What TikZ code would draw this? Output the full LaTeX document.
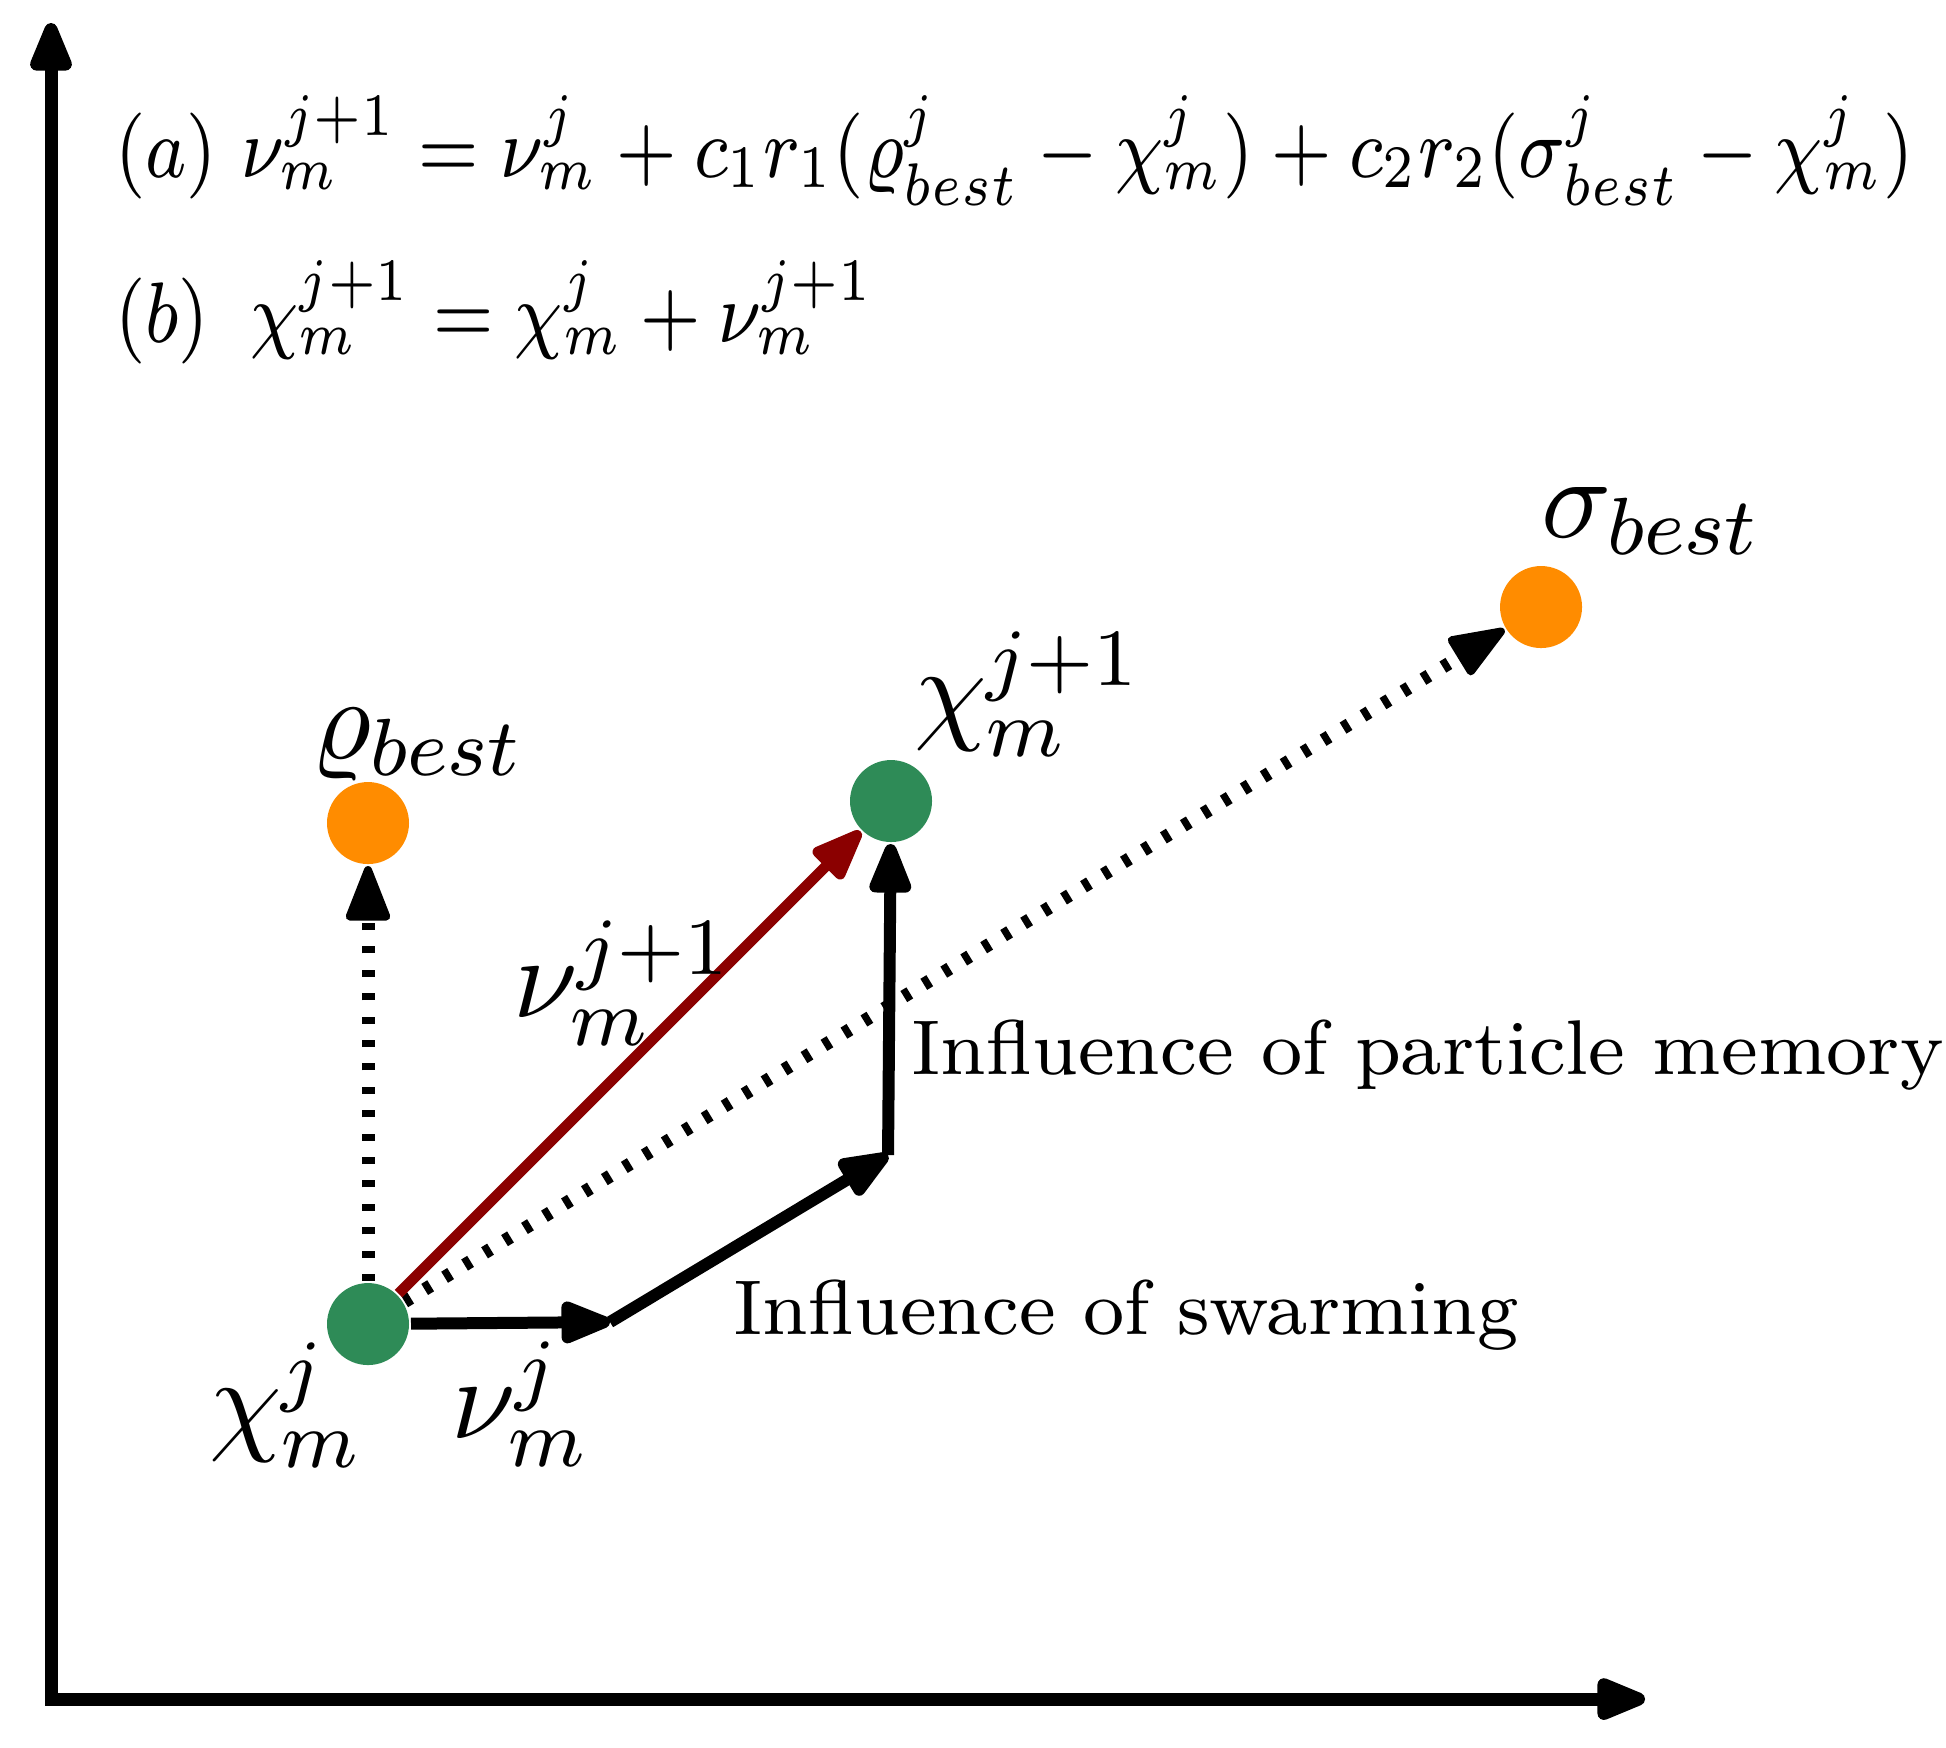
\documentclass[tikz,border=0pt]{standalone}
\usepackage{fix-cm}
\usepackage{graphicx}
\usetikzlibrary{arrows.meta}
\definecolor{ptgreen}{HTML}{2E8B57}
\definecolor{ptorange}{HTML}{FF8C00}
\definecolor{ptred}{HTML}{8B0000}
\begin{document}
\begin{tikzpicture}[x=0.1pt,y=-0.1pt,
  particle/.style={circle,fill=ptgreen,minimum size=8.2pt,inner sep=0pt},
  goal/.style={circle,fill=ptorange,minimum size=8.2pt,inner sep=0pt},
  headtip/.style={-{Triangle[length=6pt,width=4.4pt,round]}},
  axisline/.style={line width=1.3pt,{Triangle[length=6pt,width=4.4pt,round]}-{Triangle[length=6pt,width=4.4pt,round]}},
  move/.style={line width=1.2pt,headtip},
  pull/.style={line width=1.3pt,dash pattern=on 0.7pt off 1.64pt,-{Triangle[length=6.2pt,width=4.6pt,round,line width=0.8pt]}},
  lab/.style={inner sep=0pt,anchor=base west,font=\fontsize{11.6}{14}\selectfont},
  txt/.style={inner sep=0pt,anchor=base west,font=\fontsize{7.76}{10}\selectfont},
  eq/.style={inner sep=0pt,anchor=base west,font=\fontsize{8.6}{10}\selectfont},
]
\useasboundingbox (0,0) rectangle (1946,1747);
% axes
\coordinate (O) at (51,1699);
\coordinate (ytop) at (51,23);
\coordinate (xend) at (1645,1699);
\draw[axisline] (ytop) -- (O) -- (xend);
% points
\node[particle] (chi) at (368,1324) {};
\node[goal] (rho) at (368,823) {};
\node[particle] (chinext) at (891,801) {};
\node[goal] (sig) at (1541,607) {};
\coordinate (p1) at (610,1322);
\coordinate (p2) at (888,1155);
% connectors
\draw[pull] (chi) -- (rho);
\draw[pull] (chi) -- (sig);
\draw[line width=1.05pt,ptred,headtip] (chi) -- (chinext);
\draw[move] (chi) -- (p1);
\draw[move] (p1) -- (p2);
\draw[move] (p2) -- (chinext);
% labels
\node[lab] (lchi) at (207,1439) {$\chi_m^j$};
\node[lab] (lnu) at (449,1438) {$\nu_m^j$};
\node[lab] (lnunext) at (511,1017) {$\nu_m^{j+1}$};
\node[lab] (lrho) at (309,758) {$\varrho_{best}$};
\node[lab] (lsig) at (1539,537) {$\sigma_{best}$};
\node[lab] (lchinext) at (912,728) {$\chi_m^{j+1}$};
\node[txt] (tmem) at (909,1074) {Influence of particle memory};
\node[txt] (tswarm) at (731,1334) {Influence of swarming};
\node[eq] (eqa) at (113,177) {\scalebox{0.85}[1]{$(a)$ $\nu_m^{j+1} = \nu_m^j + c_1r_1(\varrho_{best}^j - \chi_m^j) + c_2r_2(\sigma_{best}^j - \chi_m^j)$}};
\node[eq] (eqb) at (113,342) {\scalebox{0.85}[1]{$(b)$\hspace{2pt} $\chi_m^{j+1} = \chi_m^j + \nu_m^{j+1}$}};
\end{tikzpicture}
\end{document}
